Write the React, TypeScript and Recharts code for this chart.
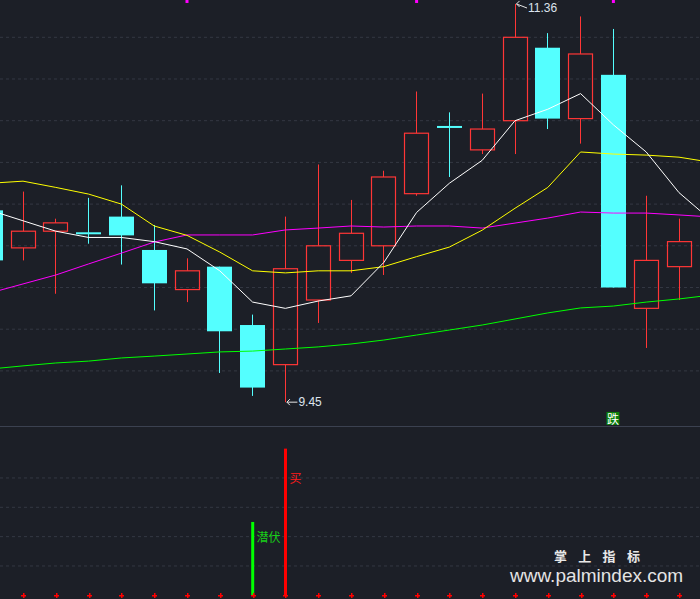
import React from 'react';
import { ComposedChart, Bar, Line, XAxis, YAxis, CartesianGrid, Scatter } from 'recharts';

// ---------- data ----------
const dayIndex = [0, 1, 2, 3, 4, 5, 6, 7, 8, 9, 10, 11, 12, 13, 14, 15, 16, 17, 18, 19, 20, 21, 22];
const openP = [10.37, 10.19, 10.27, 10.26, 10.34, 10.18, 9.99, 10.1, 9.82, 9.63, 9.94, 10.13, 10.2, 10.45, 10.77, 10.66, 10.8, 11.15, 10.81, 11.02, 9.9, 10.1, null];
const highP = [10.4, 10.46, 10.33, 10.43, 10.49, 10.3, 10.14, 10.1, 9.87, 10.34, 10.59, 10.42, 10.56, 10.94, 10.84, 10.93, 11.36, 11.22, 11.3, 11.24, 10.44, 10.33, null];
const lowP = [10.1, 10.13, 9.97, 10.21, 10.11, 9.89, 9.93, 9.59, 9.48, 9.45, 9.83, 10.07, 10.06, 10.44, 10.53, 10.64, 10.64, 10.76, 10.69, 10.0, 9.71, 9.94, null];
const closeP = [10.13, 10.27, 10.31, 10.26, 10.25, 10.02, 10.08, 9.79, 9.52, 10.09, 10.2, 10.26, 10.53, 10.74, 10.77, 10.76, 11.2, 10.81, 11.12, 10.0, 10.13, 10.22, null];

const ma5 = [10.37, 10.32, 10.27, 10.24, 10.24, 10.22, 10.185, 10.08, 9.93, 9.9, 9.935, 9.96, 10.12, 10.36, 10.5, 10.61, 10.8, 10.855, 10.93, 10.78, 10.65, 10.455, 10.32];
const ma10 = [10.5, 10.51, 10.48, 10.448, 10.4, 10.295, 10.25, 10.17, 10.08, 10.07, 10.08, 10.08, 10.1, 10.148, 10.194, 10.275, 10.38, 10.48, 10.65, 10.64, 10.635, 10.625, 10.6];
const ma20 = [9.974, 10.017, 10.06, 10.113, 10.165, 10.218, 10.252, 10.252, 10.252, 10.276, 10.285, 10.295, 10.29, 10.295, 10.295, 10.285, 10.309, 10.333, 10.362, 10.357, 10.357, 10.348, 10.338];
const ma60 = [9.609, 9.624, 9.638, 9.647, 9.662, 9.671, 9.681, 9.691, 9.695, 9.705, 9.715, 9.729, 9.748, 9.772, 9.796, 9.82, 9.849, 9.878, 9.902, 9.911, 9.93, 9.945, 9.964];

const priceGrid = [9.6, 9.8, 10.0, 10.2, 10.4, 10.6, 10.8, 11.0, 11.2];

const extremeIndex = [16, 9];
const extremeValue = [11.36, 9.45];
const extremeText = ['11.36', '9.45'];

const topMarkIndex = [6, 13, 19];
const topMarkValue = 11.379;

const fallIndex = [19];
const fallLevel = [9.372];
const fallText = ['跌'];

// sub panel
const signalIndex = [8, 9];
const signalValue = [50, 100];
const signalColor = ['#00ff00', '#ff0000'];
const signalText = ['潜伏', '买'];
const signalTextLevel = [40, 80];
const signalTextColor = ['#18d018', '#ff1a1a'];
const subGrid = [20, 40, 60, 80];

// ---------- style ----------
const BG = '#1c1f27';
const UP = '#ff3636';
const DOWN = '#54ffff';
const GRID = '#343843';
const X_DOMAIN: [number, number] = [0.2988, 21.64];
const MAIN_Y: [number, number] = [9.3357, 11.3789];
const SUB_Y: [number, number] = [-2.52, 114.75];

const mainData = dayIndex.map((i, k) => ({
  i,
  open: openP[k],
  high: highP[k],
  low: lowP[k],
  close: closeP[k],
  ma5: ma5[k],
  ma10: ma10[k],
  ma20: ma20[k],
  ma60: ma60[k],
}));

const extremeData = extremeIndex.map((i, k) => ({ i, v: extremeValue[k], t: extremeText[k] }));
const topMarkData = topMarkIndex.map((i) => ({ i, v: topMarkValue }));
const fallData = fallIndex.map((i, k) => ({ i, v: fallLevel[k], t: fallText[k] }));

const subData = dayIndex.slice(0, 22).map((i) => {
  const k = signalIndex.indexOf(i);
  return { i, sig: k >= 0 ? signalValue[k] : null, color: k >= 0 ? signalColor[k] : null };
});
const baseMarkData = dayIndex.slice(0, 22).map((i) => ({ i, v: 0 }));
const signalLabelData = signalIndex.map((i, k) => ({ i, v: signalTextLevel[k], t: signalText[k], c: signalTextColor[k] }));

// ---------- shapes ----------
function Candle(props: any) {
  const { x, y, width, height, payload } = props;
  if (!payload || payload.high == null || x == null) return <g />;
  const top = Math.min(y, y + height);
  const h = Math.abs(height);
  const { open, close, high, low } = payload;
  const k = h / (high - low || 1);
  const py = (v: number) => top + (high - v) * k;
  const cx = Math.round(x + width / 2) + 0.5;
  const bt = py(Math.max(open, close));
  const bb = py(Math.min(open, close));
  if (close > open) {
    return (
      <g>
        <line x1={cx} x2={cx} y1={top} y2={bt} stroke={UP} strokeWidth={1} />
        <line x1={cx} x2={cx} y1={bb} y2={top + h} stroke={UP} strokeWidth={1} />
        <rect x={cx - 12} y={bt} width={24} height={Math.max(bb - bt, 1)} fill="none" stroke={UP} strokeWidth={1.2} />
      </g>
    );
  }
  if (close === open) {
    return (
      <g>
        <line x1={cx} x2={cx} y1={top} y2={top + h} stroke={DOWN} strokeWidth={1} />
        <rect x={cx - 12.5} y={bt - 1} width={25} height={2} fill={DOWN} />
      </g>
    );
  }
  return (
    <g>
      <line x1={cx} x2={cx} y1={top} y2={top + h} stroke={DOWN} strokeWidth={1} />
      <rect x={cx - 12.5} y={bt} width={25} height={Math.max(bb - bt, 1)} fill={DOWN} />
    </g>
  );
}

function ExtremeLabel(props: any) {
  const { cx, cy, payload } = props;
  if (cx == null) return <g />;
  const ly = Math.max(cy, 8);
  const tx = cx + 1.5;
  return (
    <g>
      <line x1={tx} y1={cy} x2={cx + 12} y2={ly} stroke="#e6e6e6" strokeWidth={1} />
      <polyline points={`${tx + 3},${cy - 3} ${tx},${cy} ${tx + 3},${cy + 3}`} fill="none" stroke="#e6e6e6" strokeWidth={1} />
      <text x={cx + 13} y={ly} dominantBaseline="central" fill="#dce4ee" fontSize={12} fontFamily="Arial, 'Liberation Sans', sans-serif">
        {payload.t}
      </text>
    </g>
  );
}

function TopMark(props: any) {
  const { cx, cy } = props;
  if (cx == null) return <g />;
  return <rect x={cx - 1.5} y={cy} width={3} height={3} fill="#ff00ff" />;
}

function FallMark(props: any) {
  const { cx, cy, payload } = props;
  if (cx == null) return <g />;
  return (
    <g>
      <rect x={cx - 7} y={cy - 6.5} width={13} height={13} fill="#0b7d0b" />
      <text x={cx - 0.5} y={cy + 0.5} textAnchor="middle" dominantBaseline="central" fill="#ffffff" fontSize={12} fontFamily="'Noto Sans CJK SC', sans-serif">
        {payload.t}
      </text>
    </g>
  );
}

function SignalBar(props: any) {
  const { x, y, width, height, payload } = props;
  if (!payload || payload.sig == null || x == null) return <g />;
  const top = Math.min(y, y + height);
  const h = Math.abs(height);
  const cx = x + width / 2;
  return <rect x={cx - 1.5} y={top} width={3} height={h} fill={payload.color} />;
}

function BaseMark(props: any) {
  const { cx, cy } = props;
  if (cx == null) return <g />;
  const c = Math.round(cx);
  const r = Math.round(cy);
  return (
    <g>
      <rect x={c - 2} y={r} width={5} height={1.5} fill="#ff0000" />
      <rect x={c} y={r - 2} width={1.5} height={5} fill="#ff0000" />
    </g>
  );
}

function SignalLabel(props: any) {
  const { cx, cy, payload } = props;
  if (cx == null) return <g />;
  return (
    <text x={cx + 4} y={cy} dominantBaseline="central" fill={payload.c} fontSize={12} fontFamily="'Noto Sans CJK SC', sans-serif">
      {payload.t}
    </text>
  );
}

export default function App() {
  return (
    <div style={{ position: 'absolute', left: 0, top: 0, width: 700, height: 599, background: BG, overflow: 'hidden' }}>
      <div style={{ position: 'absolute', left: 0, top: 0 }}>
        <ComposedChart width={700} height={426} data={mainData} margin={{ top: 0, right: 0, bottom: 0, left: 0 }}>
          <XAxis dataKey="i" type="number" domain={X_DOMAIN} allowDataOverflow hide />
          <YAxis type="number" domain={MAIN_Y} ticks={priceGrid} allowDataOverflow hide />
          <CartesianGrid vertical={false} horizontalValues={priceGrid} stroke={GRID} strokeDasharray="3 3" />
          <Bar
            dataKey={(d: any) => (d.high == null ? null : [d.low, d.high])}
            barSize={24}
            shape={Candle}
            isAnimationActive={false}
          />
          <Line type="linear" dataKey="ma60" stroke="#00ff00" strokeWidth={1} dot={false} isAnimationActive={false} />
          <Line type="linear" dataKey="ma20" stroke="#ff00ff" strokeWidth={1} dot={false} isAnimationActive={false} />
          <Line type="linear" dataKey="ma10" stroke="#ffff00" strokeWidth={1} dot={false} isAnimationActive={false} />
          <Line type="linear" dataKey="ma5" stroke="#ffffff" strokeWidth={1} dot={false} isAnimationActive={false} />
          <Scatter data={extremeData} dataKey="v" shape={ExtremeLabel} isAnimationActive={false} />
          <Scatter data={topMarkData} dataKey="v" shape={TopMark} isAnimationActive={false} />
          <Scatter data={fallData} dataKey="v" shape={FallMark} isAnimationActive={false} />
        </ComposedChart>
      </div>
      <div style={{ position: 'absolute', left: 0, top: 426, width: 700, height: 1, background: '#3b4150' }} />
      <div style={{ position: 'absolute', left: 0, top: 427 }}>
        <ComposedChart width={700} height={172} data={subData} margin={{ top: 0, right: 0, bottom: 0, left: 0 }}>
          <XAxis dataKey="i" type="number" domain={X_DOMAIN} allowDataOverflow hide />
          <YAxis type="number" domain={SUB_Y} ticks={subGrid} allowDataOverflow hide />
          <CartesianGrid vertical={false} horizontalValues={subGrid} stroke={GRID} strokeDasharray="3 3" />
          <Scatter data={baseMarkData} dataKey="v" shape={BaseMark} isAnimationActive={false} />
          <Bar dataKey="sig" barSize={3} shape={SignalBar} isAnimationActive={false} />
          <Scatter data={signalLabelData} dataKey="v" shape={SignalLabel} isAnimationActive={false} />
        </ComposedChart>
      </div>
      <svg width={700} height={599} style={{ position: 'absolute', left: 0, top: 0, pointerEvents: 'none' }}>
        <text x={554} y={561} fill="#e8e8e8" fontSize={13} fontWeight="bold" letterSpacing={11.3} fontFamily="'Noto Sans CJK SC', sans-serif">
          掌上指标
        </text>
        <text x={510} y={582} fill="#e4e4e4" fontSize={19} fontFamily="Arial, 'Liberation Sans', sans-serif">
          www.palmindex.com
        </text>
      </svg>
    </div>
  );
}
